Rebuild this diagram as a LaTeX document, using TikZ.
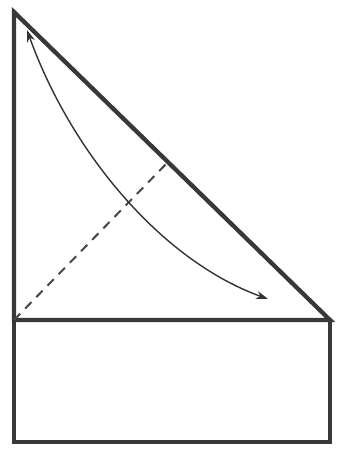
\documentclass[tikz,border=0pt]{standalone}
\usetikzlibrary{arrows.meta}
\begin{document}
\begin{tikzpicture}[x=1pt,y=-1pt,
  edge/.style={draw=black!78,line width=4.3pt,line join=miter},
  fold/.style={draw=black!72,line width=2pt,dash pattern=on 9pt off 7pt},
  turn/.style={draw=black!80,line width=1.4pt,{Stealth[length=12pt,width=8pt]}-{Stealth[length=12pt,width=8pt]}}]
\useasboundingbox (0,0) rectangle (338,451);
\coordinate (apex) at (14,12);
\coordinate (bl) at (14,320);
\coordinate (br) at (330,320);
\coordinate (bbl) at (14,442);
\coordinate (bbr) at (330,442);
\coordinate (foot) at (168,162);
\coordinate (a1) at (27,30);
\coordinate (a2) at (268,299);
\draw[edge] (bl) -- (apex) -- (br) -- cycle;
\draw[edge] (bl) -- (bbl) -- (bbr) -- (br);
\draw[fold] (bl) -- (foot);
\draw[turn] (a1) .. controls (70,150) and (160,260) .. (a2);
\end{tikzpicture}
\end{document}
